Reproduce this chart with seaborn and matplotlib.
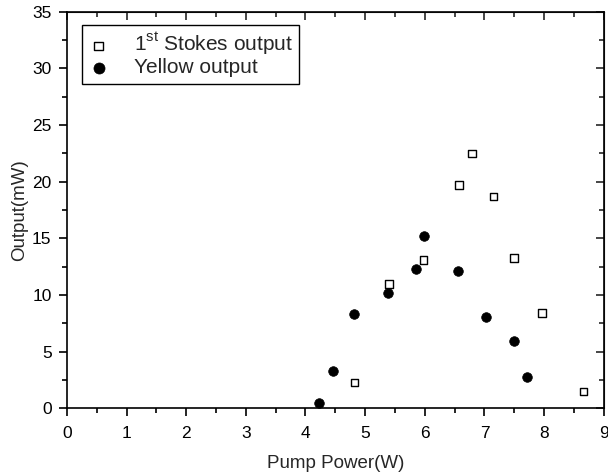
import matplotlib
matplotlib.use('Agg')
import matplotlib.pyplot as plt
import pandas as pd
import seaborn as sns
from matplotlib.ticker import MultipleLocator

# Dados
stokes_power = [4.82, 5.40, 5.98, 6.57, 6.79, 7.15, 7.50, 7.96, 8.66]
stokes_output = [2.26, 10.97, 13.1, 19.7, 22.5, 18.7, 13.25, 8.42, 1.47]

yellow_power = [4.23, 4.46, 4.82, 5.39, 5.86, 5.98, 6.56, 7.03, 7.50, 7.72]
yellow_output = [0.44, 3.26, 8.27, 10.15, 12.29, 15.16, 12.08, 8.06, 5.95, 2.76]

df_stokes = pd.DataFrame({'power': stokes_power, 'output': stokes_output})
df_yellow = pd.DataFrame({'power': yellow_power, 'output': yellow_output})

sns.set_style('ticks')
plt.rcParams['font.family'] = ['Liberation Sans', 'DejaVu Sans']
plt.rcParams['mathtext.fontset'] = 'custom'
plt.rcParams['mathtext.rm'] = 'Liberation Sans'

fig = plt.figure(figsize=(6.08, 4.74), dpi=100)
ax = fig.add_axes([0.110, 0.139, 0.883, 0.836])

sns.scatterplot(data=df_stokes, x='power', y='output', ax=ax, marker='s', s=30,
                facecolor='none', edgecolor='black', linewidth=1.0,
                label=r'1$^{\mathrm{st}}$ Stokes output')
sns.scatterplot(data=df_yellow, x='power', y='output', ax=ax, marker='o', s=48,
                color='black', edgecolor='black', linewidth=0.5,
                label='Yellow output')

ax.set_xlim(0, 9)
ax.set_ylim(0, 35)
ax.xaxis.set_major_locator(MultipleLocator(1))
ax.xaxis.set_minor_locator(MultipleLocator(0.5))
ax.yaxis.set_major_locator(MultipleLocator(5))
ax.yaxis.set_minor_locator(MultipleLocator(2.5))

for side in ['top', 'right', 'bottom', 'left']:
    ax.spines[side].set_visible(True)
    ax.spines[side].set_linewidth(1.2)
    ax.spines[side].set_color('black')

ax.tick_params(which='both', direction='out', bottom=True, left=True, width=1.2,
               labelsize=12.5, colors='black')
ax.tick_params(which='major', length=6)
ax.tick_params(which='minor', length=3.5)
ax.tick_params(axis='x', which='major', pad=7)
ax.tick_params(axis='y', which='major', pad=5)

# ticks espelhados (para dentro) no topo e na direita
top = ax.secondary_xaxis('top')
top.set_xticks(range(10))
top.xaxis.set_minor_locator(MultipleLocator(0.5))
top.tick_params(which='both', direction='in', labeltop=False, width=1.2)
top.tick_params(which='major', length=6)
top.tick_params(which='minor', length=3.5)
right = ax.secondary_yaxis('right')
right.set_yticks(range(0, 36, 5))
right.yaxis.set_minor_locator(MultipleLocator(2.5))
right.tick_params(which='both', direction='in', labelright=False, width=1.2)
right.tick_params(which='major', length=6)
right.tick_params(which='minor', length=3.5)

ax.set_xlabel('Pump Power(W)', fontsize=13.5, labelpad=10)
ax.set_ylabel('Output(mW)', fontsize=13.5, labelpad=3)

leg = ax.legend(loc='upper left', bbox_to_anchor=(0.028, 0.967), fontsize=15,
                frameon=True, fancybox=False, edgecolor='black', framealpha=1,
                borderaxespad=0, handlelength=1.0, handletextpad=1.2,
                borderpad=0.3, labelspacing=0.05, markerscale=1.15)
leg.get_frame().set_linewidth(1.0)

fig.savefig('out.png', dpi=100)
